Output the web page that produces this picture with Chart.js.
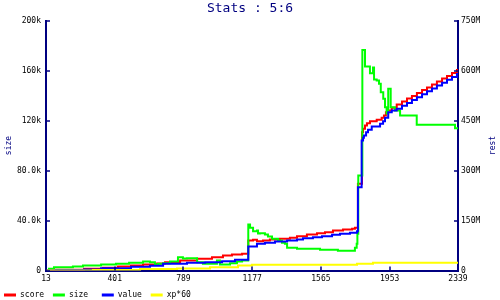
<!DOCTYPE html>
<html>
<head>
<meta charset="utf-8">
<script src="https://cdn.jsdelivr.net/npm/chart.js@4"></script>
<style>
  html, body { margin: 0; padding: 0; background: #fff; }
  #statsChart { display: block; }
</style>
</head>
<body>
<canvas id="statsChart" width="500" height="300"></canvas>
<script>
// score (right axis, millions)
const scoreX = [13, 69, 228, 335, 419, 493, 561, 640, 685, 770, 866, 950, 1012, 1063, 1120, 1155, 1182, 1204, 1238, 1277,
  1334, 1390, 1430, 1486, 1543, 1588, 1633, 1690, 1741, 1757, 1774, 1797, 1803, 1814, 1825, 1842, 1880, 1908, 1921, 1932,
  1944, 1965, 1993, 2023, 2051, 2079, 2107, 2136, 2164, 2192, 2220, 2249, 2277, 2305, 2333, 2339];
const scoreM = [0, 2.1, 5.1, 8.1, 12, 15, 18, 21, 24.9, 30, 35.1, 39.9, 45, 48, 50.1, 90, 92.1, 87.9, 90, 93,
  95.1, 98.1, 102.9, 108, 111.9, 114.9, 120, 123, 125.1, 128.1, 260.1, 414.9, 425.1, 435, 441.9, 447.9, 452.1, 458.1, 465, 474.9,
  480, 488.1, 498, 507, 516, 523.5, 532.5, 541.5, 549, 558, 567, 576, 583.5, 592.5, 601.5, 603];

// size (left axis, thousands)
const sizeX = [13, 30, 58, 165, 222, 324, 408, 482, 561, 600, 628, 645, 674, 713, 758, 786, 809, 866, 899, 978,
  995, 1052, 1091, 1120, 1155, 1165, 1182, 1204, 1210, 1221, 1249, 1266, 1289, 1323, 1345, 1362, 1374, 1430, 1560, 1661,
  1757, 1767, 1771, 1776, 1799, 1814, 1842, 1859, 1865, 1880, 1893, 1903, 1917, 1927, 1936, 1945, 1959, 1983, 2012, 2106,
  2322, 2339];
const sizeK = [0, 1.36, 2.64, 3.2, 4, 4.8, 5.36, 6.16, 7.2, 6.64, 4.8, 5.36, 5.84, 7.2, 10.64, 9.6, 9.84, 6.64, 5.36, 8,
  4.8, 5.84, 7.2, 8, 36.8, 34.16, 31.44, 32, 29.6, 29.84, 28.8, 27.2, 25.36, 24, 22.16, 21.36, 18.16, 17.36, 16.56, 15.76,
  18.16, 21.36, 29.36, 76, 176.56, 163.2, 157.84, 162.4, 152.8, 152, 149.36, 142.64, 137.36, 130.64, 125.6, 145.36, 130.64, 128, 124, 116.56,
  113.84, 113.84];

// value (right axis, millions)
const valueX = [13, 69, 228, 324, 493, 600, 674, 809, 911, 1007, 1080, 1155, 1204, 1249, 1306, 1374, 1430, 1464, 1520, 1571,
  1628, 1673, 1729, 1769, 1774, 1795, 1803, 1808, 1820, 1831, 1852, 1899, 1916, 1927, 1945, 1965, 1993, 2023, 2051, 2079,
  2107, 2136, 2164, 2192, 2220, 2249, 2277, 2305, 2333, 2339];
const valueM = [0, 1.5, 3, 6.9, 11.1, 14.1, 20.1, 23.1, 24.9, 27.9, 32.1, 72, 80.1, 83.1, 87, 90, 93, 96.9, 99.9, 102.9,
  107.1, 110.1, 113.1, 117.9, 249.9, 390, 398.1, 405, 414.9, 422.1, 432, 440.1, 447.9, 458.1, 474.9, 480, 485.1, 494.1, 502.8, 511.5,
  520.2, 528.9, 537.6, 546.3, 555, 563.7, 572.4, 581.1, 590.1, 591];

// xp*60 (right axis, millions)
const xpX = [13, 278, 544, 753, 939, 1097, 1176, 1769, 1859, 2339];
const xpM = [0, 1.5, 4.5, 6, 10, 15, 17, 20, 23, 23];

const xTicks = [13, 401, 789, 1177, 1565, 1953, 2339];
const sizeTicks = ['0', '40.0k', '80.0k', '120k', '160k', '200k'];
const restTicks = ['0', '150M', '300M', '450M', '600M', '750M'];
const leftTitle = 'size';
const rightTitle = 'rest';

const navy = '#000080';
const mono = "'DejaVu Sans Mono', monospace";

const toPoints = (xs, ys, mul) => xs.map((x, i) => ({ x: x, y: ys[i] * mul }));

// inward tick marks + rotated axis titles
const axisDecor = {
  id: 'axisDecor',
  afterDraw(chart) {
    const ctx = chart.ctx;
    const area = chart.chartArea;
    const sx = chart.scales.x, sy = chart.scales.y, sy2 = chart.scales.y2;
    ctx.save();
    ctx.strokeStyle = navy;
    ctx.lineWidth = 1.5;
    ctx.beginPath();
    sx.ticks.forEach(t => {
      const px = Math.round(sx.getPixelForValue(t.value));
      ctx.moveTo(px, area.bottom);
      ctx.lineTo(px, area.bottom - 4);
    });
    sy.ticks.forEach(t => {
      const py = Math.round(sy.getPixelForValue(t.value));
      ctx.moveTo(area.left, py);
      ctx.lineTo(area.left + 4, py);
    });
    sy2.ticks.forEach(t => {
      const py = Math.round(sy2.getPixelForValue(t.value));
      ctx.moveTo(area.right, py);
      ctx.lineTo(area.right - 4, py);
    });
    ctx.stroke();

    const midY = (area.top + area.bottom) / 2;
    ctx.fillStyle = navy;
    ctx.font = '8px ' + mono;
    ctx.textAlign = 'center';
    ctx.textBaseline = 'middle';
    [[8.5, leftTitle], [493, rightTitle]].forEach(([x, txt]) => {
      ctx.save();
      ctx.translate(x, midY);
      ctx.rotate(-Math.PI / 2);
      ctx.fillText(txt, 0, 0);
      ctx.restore();
    });
    ctx.restore();
  }
};

const tickFont = { family: mono, size: 8 };

new Chart(document.getElementById('statsChart').getContext('2d'), {
  type: 'line',
  data: {
    datasets: [
      { label: 'score', data: toPoints(scoreX, scoreM, 1e6), yAxisID: 'y2', borderColor: '#ff0000', backgroundColor: '#ff0000', order: 4 },
      { label: 'size', data: toPoints(sizeX, sizeK, 1e3), yAxisID: 'y', borderColor: '#00ff00', backgroundColor: '#00ff00', order: 3 },
      { label: 'value', data: toPoints(valueX, valueM, 1e6), yAxisID: 'y2', borderColor: '#0000ff', backgroundColor: '#0000ff', order: 2 },
      { label: 'xp*60', data: toPoints(xpX, xpM, 1e6), yAxisID: 'y2', borderColor: '#ffff00', backgroundColor: '#ffff00', order: 1 }
    ]
  },
  options: {
    responsive: false,
    animation: false,
    layout: { padding: { left: 0, right: 0, top: 0, bottom: -9 } },
    elements: {
      point: { radius: 0 },
      line: { borderWidth: 2, stepped: true, fill: false, tension: 0 }
    },
    plugins: {
      title: {
        display: true,
        text: 'Stats : 5:6',
        color: navy,
        font: { family: mono, size: 13, weight: 'normal' },
        padding: { top: 1, bottom: 4 }
      },
      legend: {
        position: 'bottom',
        align: 'start',
        labels: {
          boxWidth: 12,
          boxHeight: 3,
          padding: 4,
          color: '#000',
          font: tickFont,
          sort: (a, b) => a.datasetIndex - b.datasetIndex,
          generateLabels: chart => Chart.defaults.plugins.legend.labels.generateLabels(chart)
            .map(l => Object.assign(l, { text: l.text.padEnd(6), lineWidth: 0 }))
        }
      },
      tooltip: { enabled: false }
    },
    scales: {
      x: {
        type: 'linear',
        min: 13,
        max: 2339,
        afterBuildTicks: s => { s.ticks = xTicks.map(v => ({ value: v })); },
        afterFit: s => { s.height = 16.5; },
        grid: { display: false, drawTicks: false },
        border: { display: true, color: navy, width: 2 },
        ticks: { autoSkip: false, maxRotation: 0, padding: 4, color: '#000', font: tickFont, callback: v => String(v) }
      },
      y: {
        position: 'left',
        min: 0,
        max: 200000,
        afterFit: s => { s.width = 46; },
        grid: { display: false, drawTicks: false },
        border: { display: true, color: navy, width: 2 },
        ticks: { stepSize: 40000, padding: 5, color: '#000', font: tickFont, callback: (v, i) => sizeTicks[i] }
      },
      y2: {
        position: 'right',
        min: 0,
        max: 750e6,
        afterFit: s => { s.width = 42; },
        grid: { display: false, drawTicks: false },
        border: { display: true, color: navy, width: 2 },
        ticks: { stepSize: 150e6, padding: 3, color: '#000', font: tickFont, callback: (v, i) => restTicks[i] }
      }
    }
  },
  plugins: [axisDecor]
});
</script>
</body>
</html>
